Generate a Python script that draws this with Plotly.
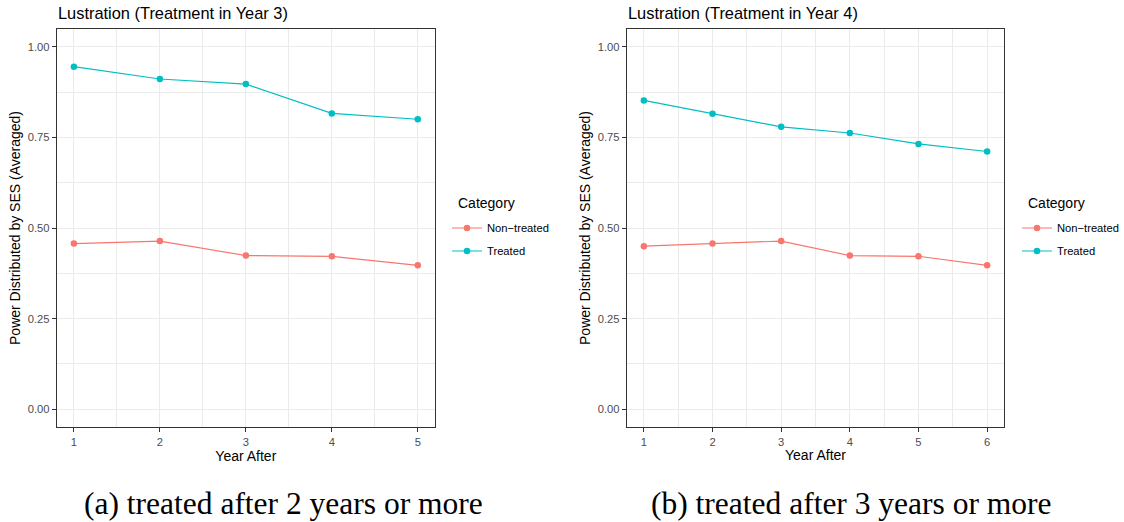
import plotly.graph_objects as go

# ---- data ----
years_a = [1, 2, 3, 4, 5]
treated_a = [0.945, 0.911, 0.897, 0.816, 0.800]
nontreated_a = [0.457, 0.464, 0.424, 0.422, 0.397]

years_b = [1, 2, 3, 4, 5, 6]
treated_b = [0.852, 0.815, 0.779, 0.762, 0.732, 0.711]
nontreated_b = [0.450, 0.457, 0.464, 0.424, 0.422, 0.397]

series_names = ["Non\u2212treated", "Treated"]
legend_title = "Category"
y_ticks = [0.0, 0.25, 0.5, 0.75, 1.0]
titles = ["Lustration (Treatment in Year 3)", "Lustration (Treatment in Year 4)"]
captions = ["(a) treated after 2 years or more", "(b) treated after 3 years or more"]

W, H = 1124, 522
RED, CYAN = "#F8766D", "#00BFC4"
SANS = "Liberation Sans, Arial"

def px(x):
    return x / W

def py(y):
    return 1 - y / H

fig = go.Figure()

panels = [
    (years_a, nontreated_a, treated_a, "x", "y", "legend"),
    (years_b, nontreated_b, treated_b, "x2", "y2", "legend2"),
]
for yrs, nt, tr, xa, ya, lg in panels:
    for name, vals, col in [(series_names[0], nt, RED), (series_names[1], tr, CYAN)]:
        fig.add_trace(go.Scatter(
            x=yrs, y=vals, name=name, mode="lines+markers",
            line=dict(color=col, width=1.2),
            marker=dict(color=col, size=6.5),
            xaxis=xa, yaxis=ya, legend=lg, legendgroup=name,
        ))

ydom = [py(427.4), py(28.6)]
xdoms = [[px(56.7), px(435.0)], [px(626.7), px(1004.3)]]
xranges = [[0.8, 5.2], [0.75, 6.25]]

def xaxis(dom, rng, anchor):
    return dict(
        domain=dom, range=rng, anchor=anchor,
        tickmode="linear", tick0=1, dtick=1,
        showgrid=True, gridcolor="#EBEBEB", gridwidth=1,
        minor=dict(tick0=0.5, dtick=0.5, showgrid=True, gridcolor="#EBEBEB", gridwidth=0.6),
        showline=True, mirror=True, linecolor="#333333", linewidth=1,
        ticks="outside", ticklen=4, tickcolor="#333333", tickwidth=1,
        tickfont=dict(family=SANS, size=11.2, color="#4D4D4D"),
        title=dict(text="Year After", standoff=3,
                   font=dict(family=SANS, size=14, color="black")),
        zeroline=False, automargin=False,
    )

def yaxis(anchor):
    return dict(
        domain=ydom, range=[-0.05, 1.05], anchor=anchor,
        tickmode="array", tickvals=y_ticks, tickformat=".2f",
        showgrid=True, gridcolor="#EBEBEB", gridwidth=1,
        minor=dict(tick0=0, dtick=0.125, showgrid=True, gridcolor="#EBEBEB", gridwidth=0.6),
        showline=True, mirror=True, linecolor="#333333", linewidth=1,
        ticks="outside", ticklen=4, tickcolor="#333333", tickwidth=1,
        tickfont=dict(family=SANS, size=11.2, color="#4D4D4D"),
        title=dict(text="Power Distributed by SES (Averaged)", standoff=3,
                   font=dict(family=SANS, size=14, color="black")),
        zeroline=False, automargin=False,
    )

def legend(xpix):
    return dict(
        x=px(xpix), xanchor="left", y=py(239.5), yanchor="middle",
        font=dict(family=SANS, size=11.2, color="black"),
        bgcolor="rgba(0,0,0,0)", borderwidth=0, tracegroupgap=4,
        itemwidth=30,
    )

annotations = []
for i, xl in enumerate([56.7, 626.7]):
    annotations.append(dict(
        text=titles[i], x=px(xl - 1), y=py(13.5), xref="paper", yref="paper",
        xanchor="left", yanchor="middle", showarrow=False,
        font=dict(family=SANS, size=16.4, color="black"),
    ))
for xl in [455.5, 1026.2]:
    annotations.append(dict(
        text=legend_title, x=px(xl), y=py(202.7), xref="paper", yref="paper",
        xanchor="left", yanchor="middle", showarrow=False,
        font=dict(family=SANS, size=14, color="black"),
    ))
for i, xc in enumerate([283.5, 851.5]):
    annotations.append(dict(
        text=captions[i], x=px(xc), y=py(503), xref="paper", yref="paper",
        xanchor="center", yanchor="middle", showarrow=False,
        font=dict(family="Liberation Serif, Times New Roman", size=31.5, color="black"),
    ))

fig.update_layout(
    width=W, height=H,
    margin=dict(l=0, r=0, t=0, b=0),
    paper_bgcolor="white", plot_bgcolor="white",
    xaxis=xaxis(xdoms[0], xranges[0], "y"),
    yaxis=yaxis("x"),
    xaxis2=xaxis(xdoms[1], xranges[1], "y2"),
    yaxis2=yaxis("x2"),
    legend=legend(447),
    legend2=legend(1017),
    annotations=annotations,
    showlegend=True,
)

fig.write_html("out.html")
